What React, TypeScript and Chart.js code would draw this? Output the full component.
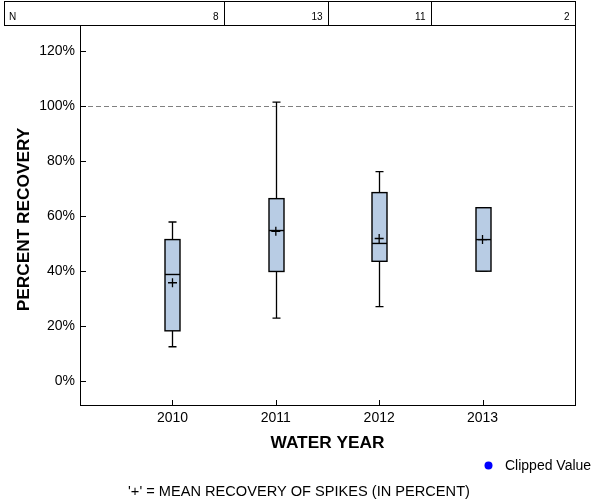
import React, { useEffect, useRef } from "react";
import { Chart, registerables } from "chart.js";

Chart.register(...registerables);

// ---- data ----
const years = [2010, 2011, 2012, 2013];
const nCounts = [8, 13, 11, 2];
const whiskerHigh = [57.9, 101.5, 76.2, 63.1];
const q3 = [51.5, 66.4, 68.6, 63.1];
const medians = [38.8, 54.8, 50.1, 51.5];
const q1 = [18.3, 39.9, 43.6, 40.0];
const whiskerLow = [12.5, 22.9, 27.1, 40.0];
const means = [35.8, 54.5, 51.9, 51.5];
const yTickValues = [0, 20, 40, 60, 80, 100, 120];
const referenceLine = 100;
const xMin = 2009.105;
const xMax = 2013.895;
const yMin = -8.7;
const yMax = 129.6;

// ---- styles ----
const FONT = '"Liberation Sans", Arial, Helvetica, sans-serif';
const BOX_FILL = "#B8CCE4";
const BOX_HALF = 7.5;
const CAP_HALF = 4;

const boxPlugin = {
  id: "boxPlot",
  beforeDatasetsDraw(chart: any) {
    const { ctx, chartArea: ca, scales } = chart;
    const x = scales.x;
    const y = scales.y;
    ctx.save();
    // reference line at 100%
    const yr = Math.round(y.getPixelForValue(referenceLine)) + 0.5;
    ctx.strokeStyle = "#808080";
    ctx.lineWidth = 1;
    ctx.setLineDash([5, 3]);
    ctx.beginPath();
    ctx.moveTo(ca.left, yr);
    ctx.lineTo(ca.right, yr);
    ctx.stroke();
    ctx.setLineDash([]);

    years.forEach((yv, i) => {
      const cx = Math.round(x.getPixelForValue(yv)) + 0.5;
      const top = y.getPixelForValue(q3[i]);
      const bot = y.getPixelForValue(q1[i]);
      const hi = y.getPixelForValue(whiskerHigh[i]);
      const lo = y.getPixelForValue(whiskerLow[i]);
      const med = y.getPixelForValue(medians[i]);
      ctx.strokeStyle = "#000";
      ctx.lineWidth = 1.3;
      ctx.beginPath();
      ctx.moveTo(cx, top);
      ctx.lineTo(cx, hi);
      ctx.moveTo(cx - CAP_HALF, hi);
      ctx.lineTo(cx + CAP_HALF, hi);
      ctx.moveTo(cx, bot);
      ctx.lineTo(cx, lo);
      ctx.moveTo(cx - CAP_HALF, lo);
      ctx.lineTo(cx + CAP_HALF, lo);
      ctx.stroke();
      ctx.fillStyle = BOX_FILL;
      ctx.fillRect(cx - BOX_HALF, top, BOX_HALF * 2, bot - top);
      ctx.lineWidth = 1.4;
      ctx.strokeRect(cx - BOX_HALF, top, BOX_HALF * 2, bot - top);
      ctx.beginPath();
      ctx.moveTo(cx - BOX_HALF, med);
      ctx.lineTo(cx + BOX_HALF, med);
      ctx.stroke();
    });
    ctx.restore();
  },
  afterDraw(chart: any) {
    const { ctx, chartArea: ca, scales } = chart;
    const x = scales.x;
    const y = scales.y;
    ctx.save();
    ctx.strokeStyle = "#000";
    ctx.lineWidth = 1;
    // frame (top and right sides)
    ctx.beginPath();
    ctx.moveTo(ca.left, ca.top + 0.5);
    ctx.lineTo(ca.right + 0.5, ca.top + 0.5);
    ctx.lineTo(ca.right + 0.5, ca.bottom + 0.5);
    ctx.stroke();
    // inward tick marks
    ctx.beginPath();
    y.ticks.forEach((t: any) => {
      const py = Math.round(y.getPixelForValue(t.value)) + 0.5;
      ctx.moveTo(ca.left, py);
      ctx.lineTo(ca.left + 6, py);
    });
    x.ticks.forEach((t: any) => {
      const px = Math.round(x.getPixelForValue(t.value)) + 0.5;
      ctx.moveTo(px, ca.bottom);
      ctx.lineTo(px, ca.bottom - 5);
    });
    ctx.stroke();

    // y axis title
    ctx.fillStyle = "#000";
    ctx.save();
    ctx.translate(24, 219.5);
    ctx.rotate(-Math.PI / 2);
    ctx.font = `bold 17.3px ${FONT}`;
    ctx.textAlign = "center";
    ctx.textBaseline = "middle";
    ctx.fillText("PERCENT RECOVERY", 0, 0);
    ctx.restore();

    // N table
    const tTop = 1.5;
    const tBot = ca.top + 0.5;
    const tLeft = 4.5;
    const tRight = ca.right + 0.5;
    ctx.strokeRect(tLeft, tTop, tRight - tLeft, tBot - tTop);
    const bounds = years.map((yv) => Math.round(x.getPixelForValue(yv + 0.5)) + 0.5);
    ctx.beginPath();
    bounds.slice(0, -1).forEach((b) => {
      ctx.moveTo(b, tTop);
      ctx.lineTo(b, tBot);
    });
    ctx.stroke();
    ctx.font = `10px ${FONT}`;
    ctx.textBaseline = "alphabetic";
    ctx.textAlign = "left";
    ctx.fillText("N", 9, 19.5);
    ctx.textAlign = "right";
    nCounts.forEach((n, i) => {
      const right = i === years.length - 1 ? tRight : bounds[i];
      ctx.fillText(String(n), right - 6, 19.5);
    });

    // legend
    ctx.fillStyle = "#0000FF";
    ctx.beginPath();
    ctx.arc(488.5, 465.5, 4, 0, Math.PI * 2);
    ctx.fill();
    ctx.fillStyle = "#000";
    ctx.font = `14px ${FONT}`;
    ctx.textAlign = "left";
    ctx.textBaseline = "middle";
    ctx.fillText("Clipped Value", 505, 466);

    // footnote
    ctx.font = `14.6px ${FONT}`;
    ctx.textAlign = "center";
    ctx.fillText("'+' = MEAN RECOVERY OF SPIKES (IN PERCENT)", 299, 492);
    ctx.restore();
  },
};

export default function App() {
  const ref = useRef<HTMLCanvasElement>(null);
  useEffect(() => {
    if (!ref.current) return;
    const chart = new Chart(ref.current, {
      type: "scatter",
      data: {
        datasets: [
          {
            label: "Mean",
            data: years.map((yv, i) => ({ x: yv, y: means[i] })),
            pointStyle: "cross",
            pointRadius: 4.5,
            pointHoverRadius: 4.5,
            borderColor: "#000",
            backgroundColor: "#000",
            borderWidth: 1.3,
          },
        ],
      },
      options: {
        responsive: false,
        animation: false,
        events: [],
        layout: { padding: { left: 0, top: 25, right: 25, bottom: 45 } },
        plugins: {
          legend: { display: false },
          tooltip: { enabled: false },
          title: { display: false },
        },
        scales: {
          x: {
            type: "linear",
            min: xMin,
            max: xMax,
            afterBuildTicks: (s: any) => {
              s.ticks = years.map((v) => ({ value: v }));
            },
            afterFit: (s: any) => {
              s.height = 50;
            },
            grid: { display: false, drawTicks: false, tickLength: 0 },
            border: { display: true, color: "#000", width: 1 },
            ticks: {
              color: "#000",
              font: { size: 14, family: FONT },
              padding: 5,
              autoSkip: false,
              maxRotation: 0,
              callback: (v: any) => String(v),
            },
            title: {
              display: true,
              text: "WATER YEAR",
              color: "#000",
              font: { size: 17.3, weight: "bold", family: FONT },
              padding: { top: 0, bottom: 1 },
            },
          },
          y: {
            type: "linear",
            min: yMin,
            max: yMax,
            afterBuildTicks: (s: any) => {
              s.ticks = yTickValues.map((v) => ({ value: v }));
            },
            afterFit: (s: any) => {
              s.width = 80;
            },
            grid: { display: false, drawTicks: false, tickLength: 0 },
            border: { display: true, color: "#000", width: 1 },
            ticks: {
              color: "#000",
              font: { size: 14, family: FONT },
              padding: 5,
              autoSkip: false,
              callback: (v: any) => `${v}%`,
            },
            title: { display: false },
          },
        },
      },
      plugins: [boxPlugin],
    } as any);
    return () => chart.destroy();
  }, []);
  return (
    <div style={{ position: "fixed", left: 0, top: 0, width: 600, height: 500, background: "#fff" }}>
      <canvas ref={ref} width={600} height={500} style={{ display: "block" }} />
    </div>
  );
}
